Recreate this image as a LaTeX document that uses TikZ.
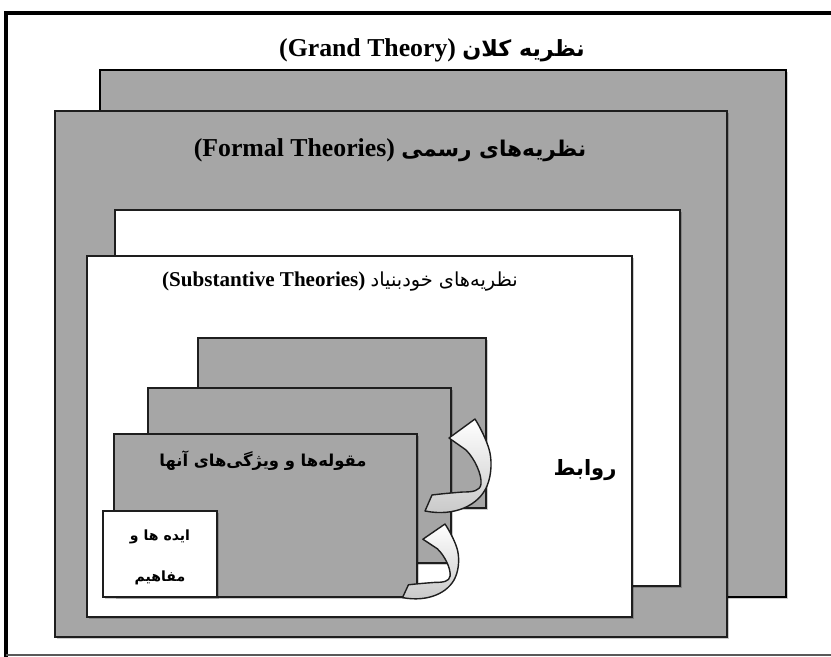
\documentclass[tikz,border=0pt]{standalone}
\usepackage{fontspec}
\setmainfont{Liberation Serif}
\newfontfamily\fa[Script=Arabic]{DejaVu Sans}
\TeXXeTstate=1
\usetikzlibrary{fit,shadows}
\definecolor{boxgray}{HTML}{A6A6A6}
\definecolor{edgecol}{HTML}{1E1E1E}
\begin{document}
\begin{tikzpicture}[x=0.3mm,y=-0.3mm,
  box/.style={draw=edgecol, line width=0.35mm, inner sep=0pt,
    drop shadow={shadow xshift=0.7mm, shadow yshift=-0.7mm, fill=black, opacity=0.2}},
  graybox/.style={box, fill=boxgray},
  whitebox/.style={box, fill=white},
  txt/.style={inner sep=0pt, text=black},
  curvarrow/.pic={
    \draw[draw=edgecol, line width=0.42mm, line join=round, top color=white, bottom color=black!22]
      (-50,92) .. controls (-20,98) and (4,86) .. (12,67)
      .. controls (17,55) and (17,40) .. (14,30)
      .. controls (11,20) and (5,8) .. (0,0)
      -- (-26,19) -- (-9,31)
      .. controls (0,40) and (7,56) .. (6,65)
      .. controls (5,72) and (-2,73) .. (-12,73)
      .. controls (-25,74) and (-35,75) .. (-43,76) -- cycle;
  }]
\useasboundingbox (0,0) rectangle (831,657);
\fill[white] (0,0) rectangle (831,657);
% outer frame
\draw[black, line width=1.3mm] (840,13) -- (6,13) -- (6,660);
\draw[black!65, line width=0.5mm] (6,655) -- (840,655);
% big boxes
\node[graybox, fit={(100,70) (786,597)}, line width=0.5mm, draw=black] (grand) {};
\node[graybox, fit={(55,111) (727,637)}] (formal) {};
\node[whitebox, fit={(115,210) (680,586)}] (backw) {};
\node[whitebox, fit={(87,256) (632,617)}] (subst) {};
% category boxes
\node[graybox, fit={(198,338) (486,508)}] (cat3) {};
\node[graybox, fit={(148,388) (451,563)}] (cat2) {};
\node[graybox, fit={(114,434) (417,597)}] (cat1) {};
\node[whitebox, fit={(103,511) (217,597)}] (ideas) {};
% texts
\node[txt, font=\fontsize{22}{26}\selectfont\bfseries] (tgrand) at (432,50)
  {(Grand Theory) {\fa\fontsize{19}{24}\selectfont\beginR نظریه کلان\endR}};
\node[txt, font=\fontsize{22}{26}\selectfont\bfseries] (tformal) at (390,150)
  {(Formal Theories) {\fa\fontsize{18.5}{24}\selectfont\beginR نظریه^^^^200cهای رسمی\endR}};
\node[txt, font=\fontsize{18}{22}\selectfont\bfseries] (tsubst) at (340,282)
  {(Substantive Theories) {\fa\mdseries\fontsize{16.5}{20}\selectfont\beginR نظریه^^^^200cهای خودبنیاد\endR}};
\node[txt, font=\fa\bfseries\fontsize{14}{20}\selectfont] (tcat) at (263,461)
  {\beginR مقوله^^^^200cها و ویژگی^^^^200cهای آنها\endR};
\node[txt, font=\fa\bfseries\fontsize{12}{16}\selectfont] (tideas1) at (160,537)
  {\beginR ایده ها و\endR};
\node[txt, font=\fa\bfseries\fontsize{12}{16}\selectfont] (tideas2) at (160,578)
  {\beginR مفاهیم\endR};
\node[txt, font=\fa\bfseries\fontsize{18}{22}\selectfont] (trel) at (585,470)
  {\beginR روابط\endR};
% curved arrows
\pic (arrowup) at (475,419) {curvarrow};
\pic[xscale=0.85, yscale=0.8] (arrowlow) at (445,524) {curvarrow};
\end{tikzpicture}
\end{document}
